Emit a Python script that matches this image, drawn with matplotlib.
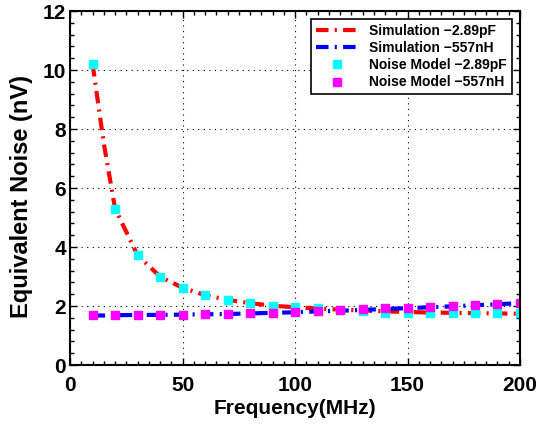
import matplotlib
matplotlib.use("Agg")
import matplotlib.pyplot as plt
from matplotlib.ticker import MultipleLocator

plt.rcParams['font.family'] = ['Liberation Sans', 'DejaVu Sans']
plt.rcParams['font.weight'] = 'bold'

### DATA ###
freq = [10, 20, 30, 40, 50, 60, 70, 80, 90, 100,
        110, 120, 130, 140, 150, 160, 170, 180, 190, 200]
sim_freq = [10, 15, 20, 30, 40, 50, 60, 70, 80, 90, 100,
            110, 120, 130, 140, 150, 160, 170, 180, 190, 200]
sim_cap = [10.2, 7.5, 5.3, 3.72, 3.00, 2.62, 2.37, 2.21, 2.10, 2.01, 1.96,
           1.92, 1.88, 1.85, 1.82, 1.80, 1.78, 1.77, 1.76, 1.75, 1.74]
sim_ind = [1.68, 1.68, 1.69, 1.70, 1.70, 1.71, 1.72, 1.73, 1.75, 1.77, 1.79,
           1.82, 1.84, 1.87, 1.90, 1.93, 1.96, 1.99, 2.03, 2.06, 2.10]
model_cap = [10.2, 5.28, 3.73, 3.00, 2.62, 2.37, 2.21, 2.10, 2.01, 1.97,
             1.92, 1.88, 1.83, 1.78, 1.76, 1.76, 1.75, 1.75, 1.75, 1.75]
model_ind = [1.68, 1.69, 1.70, 1.70, 1.71, 1.72, 1.73, 1.75, 1.77, 1.81,
             1.84, 1.86, 1.89, 1.92, 1.94, 1.98, 2.01, 2.05, 2.08, 2.11]
labels = ['Simulation \u22122.89pF', 'Simulation \u2212557nH',
          'Noise Model \u22122.89pF', 'Noise Model \u2212557nH']

fig = plt.figure(figsize=(5.52, 4.24), dpi=100)
ax = fig.add_axes([0.127, 0.139, 0.815, 0.835])

dashdot = (0, (3, 1.5, 0.5, 1.5))
ax.plot(sim_freq, sim_cap, color='red', linestyle=dashdot, linewidth=3, label=labels[0])
ax.plot(sim_freq, sim_ind, color='blue', linestyle=dashdot, linewidth=3, label=labels[1])
ax.plot(freq, model_cap, 's', color='cyan', markersize=6, markeredgecolor='cyan', label=labels[2])
ax.plot(freq, model_ind, 's', color='magenta', markersize=6, markeredgecolor='magenta', label=labels[3])

ax.set_xlim(0, 200)
ax.set_ylim(0, 12)
ax.xaxis.set_major_locator(MultipleLocator(50))
ax.xaxis.set_minor_locator(MultipleLocator(5))
ax.yaxis.set_major_locator(MultipleLocator(2))
ax.yaxis.set_minor_locator(MultipleLocator(0.4))
ax.tick_params(which='both', direction='in', top=True, right=True, width=1)
ax.tick_params(which='major', length=5, labelsize=15)
ax.tick_params(axis='x', which='major', pad=8)
ax.tick_params(axis='y', which='major', pad=3)
ax.tick_params(which='minor', length=3)
ax.grid(True, which='major', color='black', linestyle=(0, (1, 4)), linewidth=0.8)
for s in ax.spines.values():
    s.set_linewidth(1.5)

ax.set_xlabel('Frequency(MHz)', fontsize=15, fontweight='bold', labelpad=3)
ax.set_ylabel('Equivalent Noise (nV)', fontsize=17, fontweight='bold')
ax.yaxis.set_label_coords(-0.082, 0.477)

leg = ax.legend(loc='upper right', fontsize=10, fancybox=False, framealpha=1,
                edgecolor='black', borderpad=0.35, handlelength=3, labelspacing=0.22,
                borderaxespad=0.6)
leg.get_frame().set_linewidth(1.2)

fig.savefig('out.png', dpi=100)
